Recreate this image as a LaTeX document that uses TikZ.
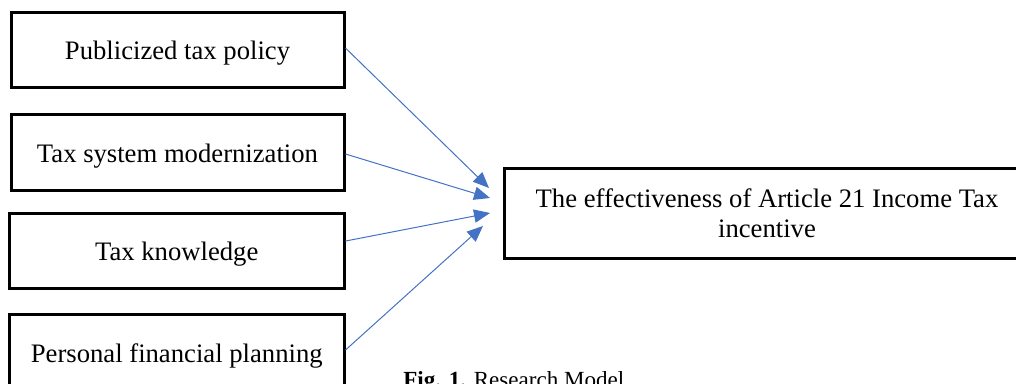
\documentclass[tikz,border=0pt]{standalone}
\usepackage{fontspec}
\setmainfont{Liberation Serif}
\usetikzlibrary{arrows.meta}
\definecolor{arrowblue}{HTML}{4472C4}
\begin{document}
\begin{tikzpicture}[x=0.75pt,y=-0.75pt,
  factor/.style={draw=black, line width=2.25pt, rectangle, inner sep=0pt,
    minimum height=56.25pt, text height=15pt, text depth=0pt,
    font=\fontsize{20}{22.5}\selectfont},
  outcome/.style={draw=black, line width=2.25pt, rectangle, inner sep=0pt,
    minimum width=394.5pt, minimum height=67.5pt, align=center,
    font=\fontsize{20}{22.5}\selectfont},
  link/.style={draw=arrowblue, line width=0.75pt,
    -{Triangle[length=12pt,width=10pt]}, fill=none}
]
\useasboundingbox (0,0) rectangle (1016,383);
\node[factor, minimum width=249.75pt] (b1) at (177.5,49.5) {Publicized tax policy};
\node[factor, minimum width=249.75pt, minimum height=57pt] (b2) at (177.5,152) {Tax system modernization};
\node[factor, minimum width=250.9pt] (b3) at (176.75,250.5) {Tax knowledge};
\node[factor, minimum width=250.9pt, minimum height=57pt] (b4) at (176.75,352) {Personal financial planning};
\node[outcome] (out) at (767,213) {The effectiveness of Article 21 Income Tax\\incentive};
\coordinate (t1) at (489,188);
\coordinate (t2) at (490,198);
\coordinate (t3) at (490,213);
\coordinate (t4) at (483,226);
\draw[link] ([yshift=1.1pt]b1.east) -- (t1);
\draw[link] ([yshift=-1.5pt]b2.east) -- (t2);
\draw[link] ([yshift=7.1pt]b3.east) -- (t3);
\draw[link] ([yshift=1.5pt]b4.east) -- (t4);
\node[anchor=base west, inner sep=0pt, font=\fontsize{17.3}{20}\selectfont] (cap) at (403,387) {\textbf{Fig. 1.} Research Model};
\end{tikzpicture}
\end{document}
